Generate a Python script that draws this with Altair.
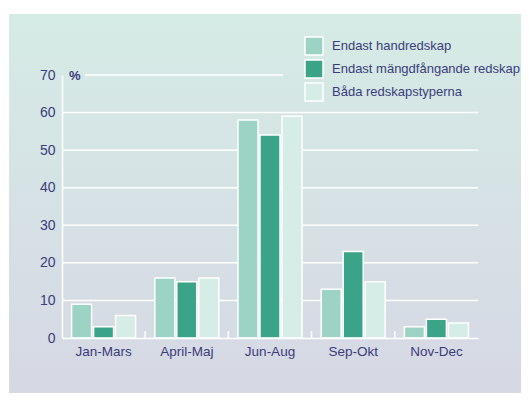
import altair as alt
import pandas as pd

categories = ["Jan-Mars", "April-Maj", "Jun-Aug", "Sep-Okt", "Nov-Dec"]
series = ["Endast handredskap", "Endast mängdfångande redskap", "Båda redskapstyperna"]
hand = [9, 16, 58, 13, 3]
mangd = [3, 15, 54, 23, 5]
bada = [6, 16, 59, 15, 4]
colors = ["#9dd3c4", "#3ba388", "#d6ece6"]
y_ticks = [0, 10, 20, 30, 40, 50, 60, 70]
grid_vals = [10, 20, 30, 40, 50, 60]

rows = []
for i, c in enumerate(categories):
    for s, vals in zip(series, [hand, mangd, bada]):
        rows.append({"cat": c, "serie": s, "value": vals[i]})
df = pd.DataFrame(rows)

W, H = 416, 263
FONT = "Liberation Sans, Arial"
TXT = "#3b3c7c"

bg = alt.Chart(pd.DataFrame({"a": [0]})).mark_rect(
    color=alt.LinearGradient(
        gradient="linear",
        stops=[alt.GradientStop(color="#d5ebe5", offset=0),
               alt.GradientStop(color="#d6d8e4", offset=1)],
        x1=0, x2=0, y1=0, y2=1,
    ),
    clip=False,
).encode(x=alt.value(-53), x2=alt.value(W + 43), y=alt.value(-61), y2=alt.value(H + 55))

xscale = alt.Scale(domain=categories, paddingInner=0, paddingOuter=0)
yscale = alt.Scale(domain=[0, 70], nice=False)

y_axis = alt.Axis(title=None, values=y_ticks, ticks=False, domainColor="white",
                  domainWidth=1.5, labelFont=FONT, labelFontSize=14,
                  labelColor=TXT, labelPadding=7, grid=False, zindex=1,
                  labelOverlap=False, labelFlush=False, labelBound=False)

grid = alt.Chart(pd.DataFrame({"v": grid_vals})).mark_rule(color="white", strokeWidth=1.5).encode(
    y=alt.Y("v:Q", scale=yscale, axis=y_axis), x=alt.value(0), x2=alt.value(W)
)

top_line = alt.Chart(pd.DataFrame({"v": [70]})).mark_rule(color="white", strokeWidth=1.5).encode(
    y=alt.Y("v:Q", scale=yscale, axis=y_axis), x=alt.value(23), x2=alt.value(221)
)

bars = alt.Chart(df).mark_bar(stroke="white", strokeWidth=1.5).encode(
    x=alt.X("cat:N", sort=categories, scale=xscale,
            axis=alt.Axis(title=None, labelAngle=0, ticks=False, domainColor="white",
                          domainWidth=1.5, labelFont=FONT, labelFontSize=13.5,
                          labelColor=TXT, labelPadding=6, grid=False, zindex=1)),
    xOffset=alt.XOffset("serie:N", sort=series,
                        scale=alt.Scale(paddingInner=0.09, paddingOuter=0.436)),
    y=alt.Y("value:Q", scale=yscale, axis=y_axis),
    color=alt.Color("serie:N", sort=series,
                    scale=alt.Scale(domain=series, range=colors),
                    legend=alt.Legend(title=None, orient="none", legendX=242, legendY=-39,
                                      symbolType="square", symbolSize=324,
                                      symbolStrokeColor="white", symbolStrokeWidth=1.5,
                                      symbolOpacity=1,
                                      labelFont=FONT, labelFontSize=13, labelColor=TXT,
                                      labelOffset=8, rowPadding=-1, padding=0,
                                      labelLimit=300)),
)

tick_df = pd.DataFrame({"cat": categories[1:]})
sep_ticks = alt.Chart(tick_df).mark_rule(color="white", strokeWidth=1.5).encode(
    x=alt.X("cat:N", sort=categories, scale=xscale, bandPosition=0),
    y=alt.value(H - 7), y2=alt.value(H),
)

pct = alt.Chart(pd.DataFrame({"t": ["%"]})).mark_text(
    font=FONT, fontSize=13, fontWeight="bold", color=TXT, align="left", baseline="middle"
).encode(text="t:N", x=alt.value(7), y=alt.value(1))

chart = alt.layer(bg, grid, top_line, bars, sep_ticks, pct).properties(
    width=W, height=H,
    autosize=alt.AutoSizeParams(type="none"),
    padding={"left": 54, "top": 67, "right": 43, "bottom": 55},
    background="white",
).configure_view(stroke=None).configure_axis(labelOverlap=False)

chart.save("out.html", embed_options={"renderer": "svg", "actions": False})
